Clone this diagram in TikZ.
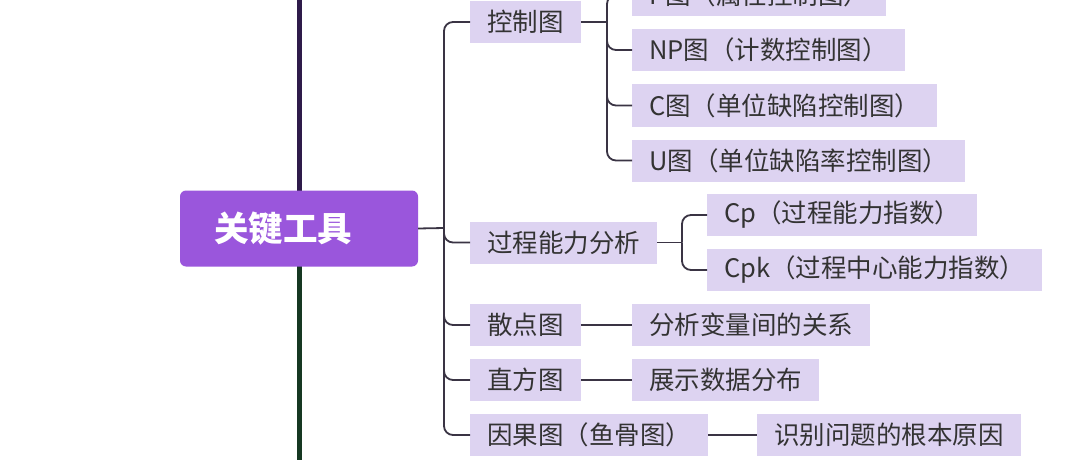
\documentclass[tikz,border=0pt]{standalone}
\usepackage{fontspec}
\newfontfamily\cjk{Noto Sans CJK SC}
\definecolor{mainpurple}{HTML}{9A56DC}
\definecolor{lav}{HTML}{DDD3F1}
\definecolor{txt}{HTML}{333333}
\definecolor{conncol}{HTML}{3A3444}
\definecolor{topline}{HTML}{2E1B4A}
\definecolor{botline}{HTML}{163822}
\tikzset{
  leaf/.style={fill=lav, text=txt, font=\cjk\fontsize{25.5}{28}\selectfont, inner xsep=17pt, inner ysep=0pt, minimum height=42pt, anchor=west},
  conn/.style={draw=conncol, line width=1.8pt, rounded corners=9pt},
}
\begin{document}
\begin{tikzpicture}[x=1pt,y=-1pt]
\useasboundingbox (0,0) rectangle (1080,460);
\clip (0,0) rectangle (1080,460);
\fill[white] (0,0) rectangle (1080,460);
% spine
\draw[topline, line width=5pt] (299,-10) -- (299,192);
\draw[botline, line width=5pt] (299,265) -- (299,470);
% main node
\node[fill=mainpurple, rounded corners=6pt, minimum width=238pt, minimum height=76pt, inner sep=0pt] (main) at (299,228.5) {};
\node[anchor=west, text=white, inner sep=0pt, font=\cjk\bfseries\fontsize{34.5}{38}\selectfont] (maintext) at (214,229) {关键工具};
% level 1
\node[leaf] (ctrl) at (470,22) {控制图};
\node[leaf] (cap) at (470,242.5) {过程能力分析};
\node[leaf] (scat) at (470,325) {散点图};
\node[leaf] (hist) at (470,380) {直方图};
\node[leaf] (fish) at (470,435) {因果图（鱼骨图）};
% level 2 control
\node[leaf] (p) at (632,-5) {P图（属性控制图）};
\node[leaf] (np) at (632,50) {NP图（计数控制图）};
\node[leaf] (c) at (632,105.5) {C图（单位缺陷控制图）};
\node[leaf] (u) at (632,160.5) {U图（单位缺陷率控制图）};
% level 2 capability
\node[leaf] (cp) at (707,215) {Cp（过程能力指数）};
\node[leaf] (cpk) at (707,270) {Cpk（过程中心能力指数）};
% others
\node[leaf] (rel) at (632,325) {分析变量间的关系};
\node[leaf] (dist) at (632,380) {展示数据分布};
\node[leaf] (root) at (757,435) {识别问题的根本原因};
% connectors
\coordinate (hub) at (444,228);
\draw[conn] (main.east) -- (hub);
\foreach \n in {ctrl,cap,scat,hist,fish} \draw[conn] (hub) |- (\n.west);
\coordinate (hubc) at (607,22);
\draw[conn] (ctrl.east) -- (hubc);
\foreach \n in {p,np,c,u} \draw[conn] (hubc) |- (\n.west);
\coordinate (hubp) at (682,242.5);
\draw[conn] (cap.east) -- (hubp);
\foreach \n in {cp,cpk} \draw[conn] (hubp) |- (\n.west);
\draw[conn] (scat.east) -- (rel.west);
\draw[conn] (hist.east) -- (dist.west);
\draw[conn] (fish.east) -- (root.west);
\end{tikzpicture}
\end{document}
